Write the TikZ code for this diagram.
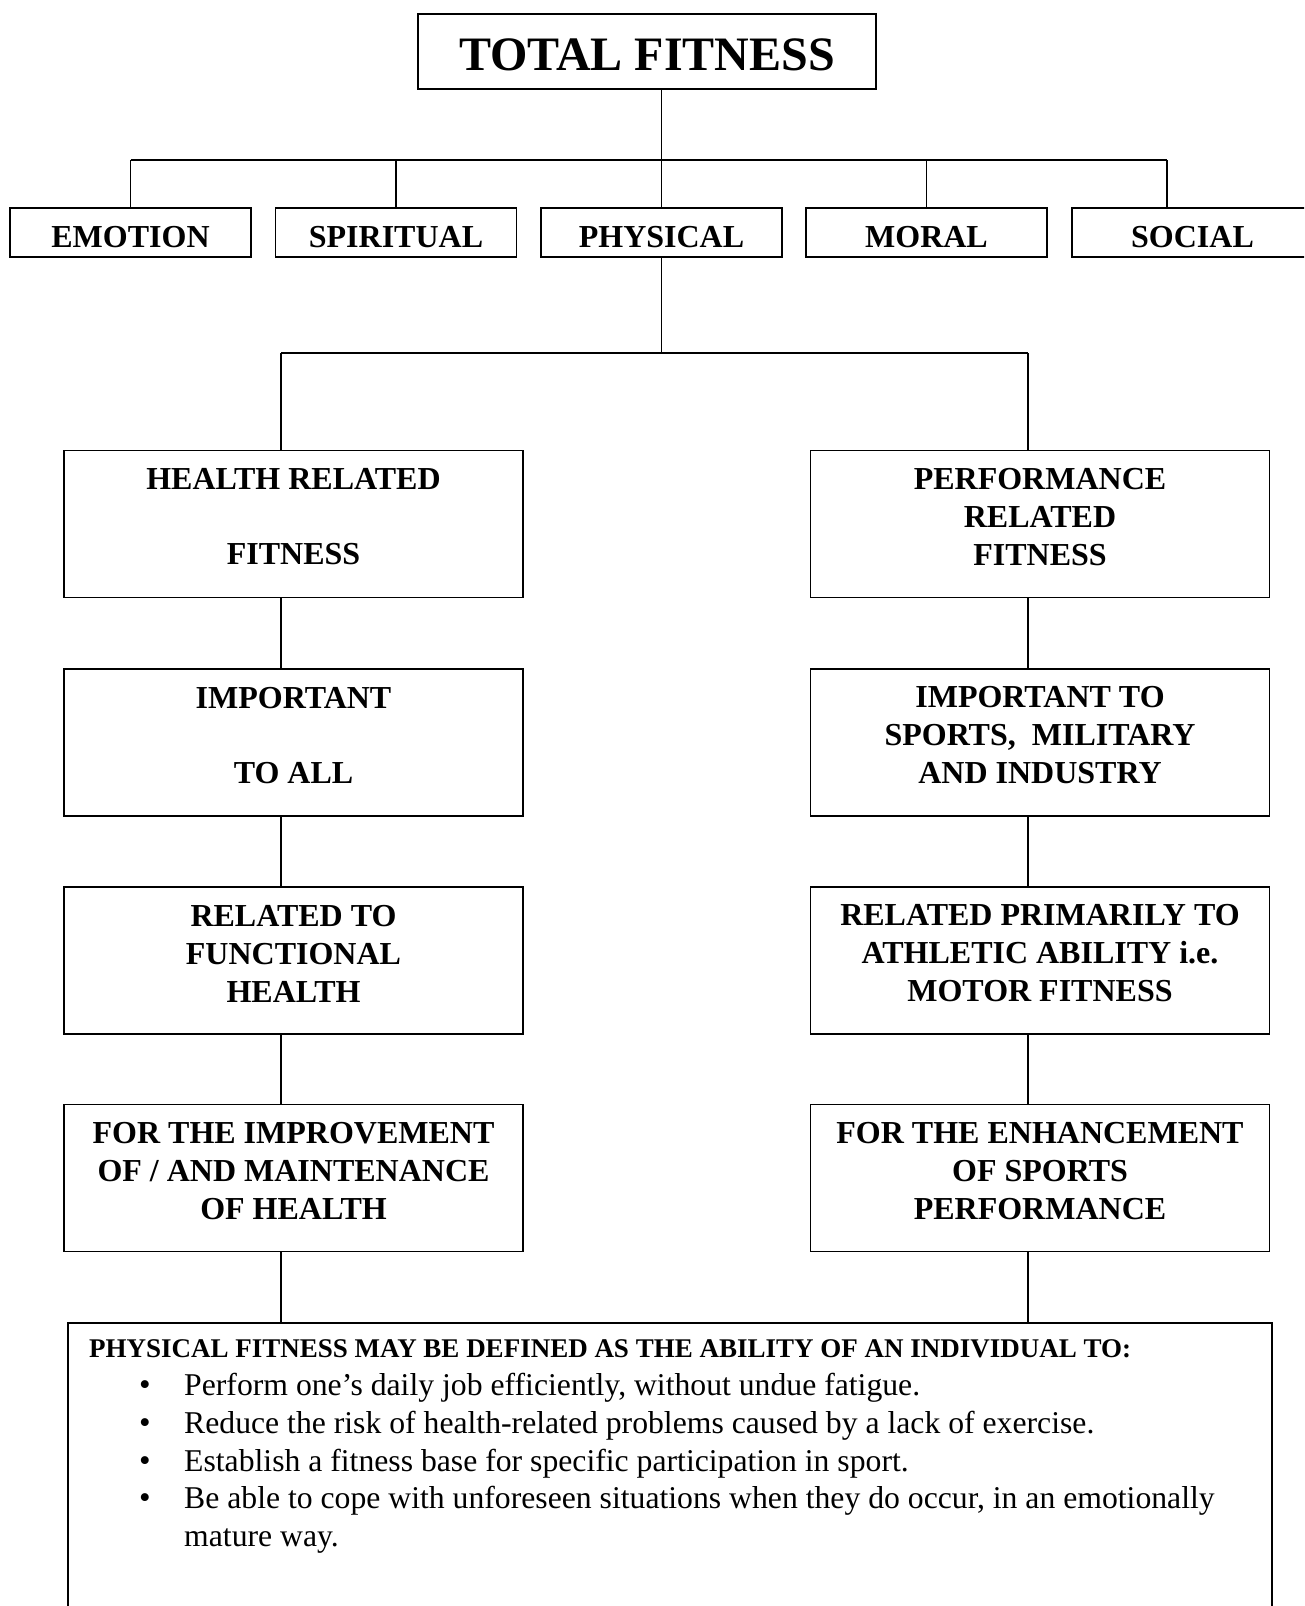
\documentclass[tikz,border=0pt]{standalone}
\usepackage{fontspec}
\setmainfont{Liberation Serif}
\begin{document}
\begin{tikzpicture}[x=1pt,y=-1pt,
  box/.style={draw, line width=1.8pt, inner sep=0pt, minimum width=459pt, minimum height=147pt},
  tbox/.style={draw, line width=1.8pt, inner sep=0pt, minimum width=241pt, minimum height=49pt},
  lbl/.style={font=\fontsize{32}{38}\selectfont\bfseries, align=center, inner sep=0pt},
  conn/.style={line width=1.1pt},
  barline/.style={line width=1.8pt},
  body/.style={font=\fontsize{31.7}{37.5}\selectfont, anchor=base west, inner sep=0pt},
  bul/.style={font=\fontsize{33}{37.5}\selectfont, anchor=base, inner sep=0pt}]
\useasboundingbox (0,0) rectangle (1304,1606);
\clip (0,0) rectangle (1304,1606);

% top
\node[draw, line width=1.8pt, inner sep=0pt, minimum width=458pt, minimum height=75pt] (tf) at (647,51.5) {};
\node[font=\fontsize{48}{56}\selectfont\bfseries, inner sep=0pt] (tft) at ([yshift=-3.5pt]tf.center) {TOTAL FITNESS};

% second row
\node[tbox] (emo) at (130.5,232.5) {};
\node[tbox] (spi) at (396,232.5) {};
\node[tbox] (phy) at (661.5,232.5) {};
\node[tbox] (mor) at (926.5,232.5) {};
\node[tbox] (soc) at (1192.5,232.5) {};
\node[lbl] (emot) at ([yshift=-5pt]emo.center) {EMOTION};
\node[lbl] (spit) at ([yshift=-5pt]spi.center) {SPIRITUAL};
\node[lbl] (phyt) at ([yshift=-5pt]phy.center) {PHYSICAL};
\node[lbl] (mort) at ([yshift=-5pt]mor.center) {MORAL};
\node[lbl] (soct) at ([yshift=-5pt]soc.center) {SOCIAL};

\coordinate (b1L) at (130.5,160);
\coordinate (b1R) at (1167,160);
\draw[conn] (phy.north) -- (phy.north |- tf.south);
\draw[barline] (b1L) -- (b1R);
\draw[conn] (emo.north) -- (emo.north |- b1L);
\draw[conn] (spi.north) -- (spi.north |- b1L);
\draw[conn] (mor.north) -- (mor.north |- b1L);
\draw[conn] (b1R) -- (b1R |- soc.north);

% columns
\node[box] (h1) at (293.5,524) {};
\node[box] (h2) at (293.5,742.5) {};
\node[box] (h3) at (293.5,960.5) {};
\node[box] (h4) at (293.5,1178) {};
\node[box] (p1) at (1040,524) {};
\node[box] (p2) at (1040,742.5) {};
\node[box] (p3) at (1040,960.5) {};
\node[box] (p4) at (1040,1178) {};

\node[lbl] (h1t) at ([yshift=7pt]h1.center) {HEALTH RELATED\\[37pt]FITNESS};
\node[lbl] (h2t) at ([yshift=7pt]h2.center) {IMPORTANT\\[37pt]TO ALL};
\node[lbl] (h3t) at ([yshift=7pt]h3.center) {RELATED TO\\FUNCTIONAL\\HEALTH};
\node[lbl] (h4t) at ([yshift=7pt]h4.center) {FOR THE IMPROVEMENT\\OF / AND MAINTENANCE\\OF HEALTH};
\node[lbl] (p1t) at ([yshift=7pt]p1.center) {PERFORMANCE\\RELATED\\FITNESS};
\node[lbl] (p2t) at ([yshift=7pt]p2.center) {IMPORTANT TO\\SPORTS,\ \ MILITARY\\AND INDUSTRY};
\node[lbl] (p3t) at ([yshift=7pt]p3.center) {RELATED PRIMARILY TO\\ATHLETIC ABILITY i.e.\\MOTOR FITNESS};
\node[lbl] (p4t) at ([yshift=7pt]p4.center) {FOR THE ENHANCEMENT\\OF SPORTS\\PERFORMANCE};

% bottom box
\node[draw, line width=1.8pt, inner sep=0pt, minimum width=1204pt, minimum height=340pt] (def) at (670,1493) {};

\coordinate (b2L) at (281,353);
\coordinate (b2R) at (1028,353);
\draw[conn] (phy.south) -- (phy.south |- b2L);
\draw[barline] (b2L) -- (b2R);
\draw[conn] (b2L) -- (b2L |- h1.north);
\draw[conn] (b2R) -- (b2R |- p1.north);
\draw[conn] (h1.south -| b2L) -- (h2.north -| b2L);
\draw[conn] (h2.south -| b2L) -- (h3.north -| b2L);
\draw[conn] (h3.south -| b2L) -- (h4.north -| b2L);
\draw[conn] (h4.south -| b2L) -- (def.north -| b2L);
\draw[conn] (p1.south -| b2R) -- (p2.north -| b2R);
\draw[conn] (p2.south -| b2R) -- (p3.north -| b2R);
\draw[conn] (p3.south -| b2R) -- (p4.north -| b2R);
\draw[conn] (p4.south -| b2R) -- (def.north -| b2R);

% text in bottom box
\node[font=\fontsize{27}{32}\selectfont\bfseries, anchor=base west, inner sep=0pt] (hd) at (89,1357) {PHYSICAL FITNESS MAY BE DEFINED AS THE ABILITY OF AN INDIVIDUAL TO:};
\node[bul] (u1) at (145,1395) {\textbullet};
\node[bul] (u2) at (145,1433) {\textbullet};
\node[bul] (u3) at (145,1471) {\textbullet};
\node[bul] (u4) at (145,1508) {\textbullet};
\node[body] (l1) at (184,1395) {Perform one’s daily job efficiently, without undue fatigue.};
\node[body] (l2) at (184,1433) {Reduce the risk of health-related problems caused by a lack of exercise.};
\node[body] (l3) at (184,1471) {Establish a fitness base for specific participation in sport.};
\node[body] (l4) at (184,1508) {Be able to cope with unforeseen situations when they do occur, in an emotionally};
\node[body] (l5) at (184,1546) {mature way.};
\end{tikzpicture}
\end{document}
